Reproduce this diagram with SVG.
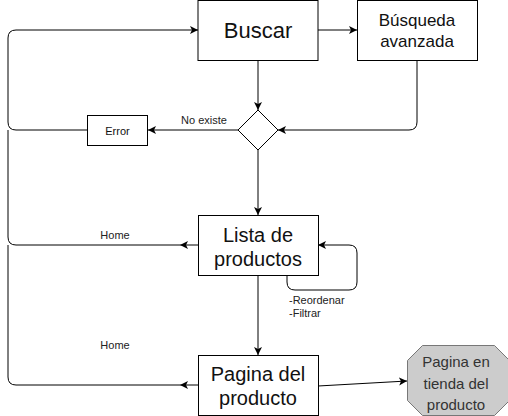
<svg xmlns="http://www.w3.org/2000/svg" width="508" height="416" viewBox="0 0 508 416">
<defs>
<marker id="arr" markerUnits="userSpaceOnUse" markerWidth="10" markerHeight="10" refX="8" refY="4" orient="auto">
<path d="M0,0 L8,4 L0,8 L2,4 Z" fill="#000"/>
</marker>
<style>
.box{fill:#fff;stroke:#000;stroke-width:1}
.oct{fill:#cccccc;stroke:#777777;stroke-width:1}
.t{font-family:"Liberation Sans",Arial,sans-serif;fill:#111;text-anchor:middle}
.lbl{font-family:"Liberation Sans",Arial,sans-serif;font-size:11px;fill:#222}
.e{fill:none;stroke:#000;stroke-width:1}
.ea{fill:none;stroke:#000;stroke-width:1;marker-end:url(#arr)}
</style>
</defs>
<rect width="508" height="416" fill="#fff"/>
<g id="connectors">
<path class="ea" d="M318,30 H357"/>
<path class="ea" d="M258,60 V110"/>
<path class="ea" d="M417,60 V122 Q417,130 409,130 H278"/>
<path class="ea" d="M238,130 H148"/>
<path class="ea" d="M87,130 H16 Q8,130 8,122 V38 Q8,30 16,30 H198"/>
<path class="ea" d="M258,150 V215"/>
<path class="ea" d="M198,245 H180"/>
<path class="e" d="M180,245 H16 Q8,245 8,237 V130"/>
<path class="ea" d="M287,275 V282 Q287,290 295,290 H349 Q357,290 357,282 V253 Q357,245 349,245 H318"/>
<path class="ea" d="M258,275 V355"/>
<path class="ea" d="M198,385 H180"/>
<path class="e" d="M180,385 H16 Q8,385 8,377 V245"/>
<path class="ea" d="M318,386 L407,381"/>
<text class="lbl" x="204" y="124" text-anchor="middle">No existe</text>
<text class="lbl" x="115" y="239" text-anchor="middle">Home</text>
<text class="lbl" x="115" y="349" text-anchor="middle">Home</text>
<text class="lbl" x="289" y="304">-Reordenar</text>
<text class="lbl" x="289" y="317">-Filtrar</text>
</g>
<g id="buscar">
<rect class="box" x="198" y="0.5" width="120" height="60"/>
<text class="t" x="258" y="38" font-size="22">Buscar</text>
</g>
<g id="busqueda-avanzada">
<rect class="box" x="357.5" y="0.5" width="120" height="60"/>
<text class="t" x="417" y="26" font-size="17">Búsqueda</text>
<text class="t" x="417" y="47" font-size="17">avanzada</text>
</g>
<g id="decision">
<polygon points="258,110 278,130 258,150 238,130" fill="#fff" stroke="#000"/>
</g>
<g id="error">
<rect class="box" x="87.5" y="115.5" width="60" height="30"/>
<text class="t" x="117.5" y="134.5" font-size="11">Error</text>
</g>
<g id="lista">
<rect class="box" x="198.5" y="215.5" width="120" height="60"/>
<text class="t" x="258" y="242" font-size="20">Lista de</text>
<text class="t" x="258" y="266" font-size="20">productos</text>
</g>
<g id="pagina">
<rect class="box" x="198.5" y="355.5" width="120" height="60"/>
<text class="t" x="258" y="381" font-size="20">Pagina del</text>
<text class="t" x="258" y="405" font-size="20">producto</text>
</g>
<g id="tienda">
<polygon class="oct" points="422.5,345.5 494.5,345.5 509.5,360.5 509.5,400.5 494.5,415.5 422.5,415.5 407.5,400.5 407.5,360.5"/>
<text class="t" x="456" y="367" font-size="15" style="fill:#333">Pagina en</text>
<text class="t" x="456" y="389" font-size="15" style="fill:#333">tienda del</text>
<text class="t" x="456" y="410" font-size="15" style="fill:#333">producto</text>
</g>
</svg>
